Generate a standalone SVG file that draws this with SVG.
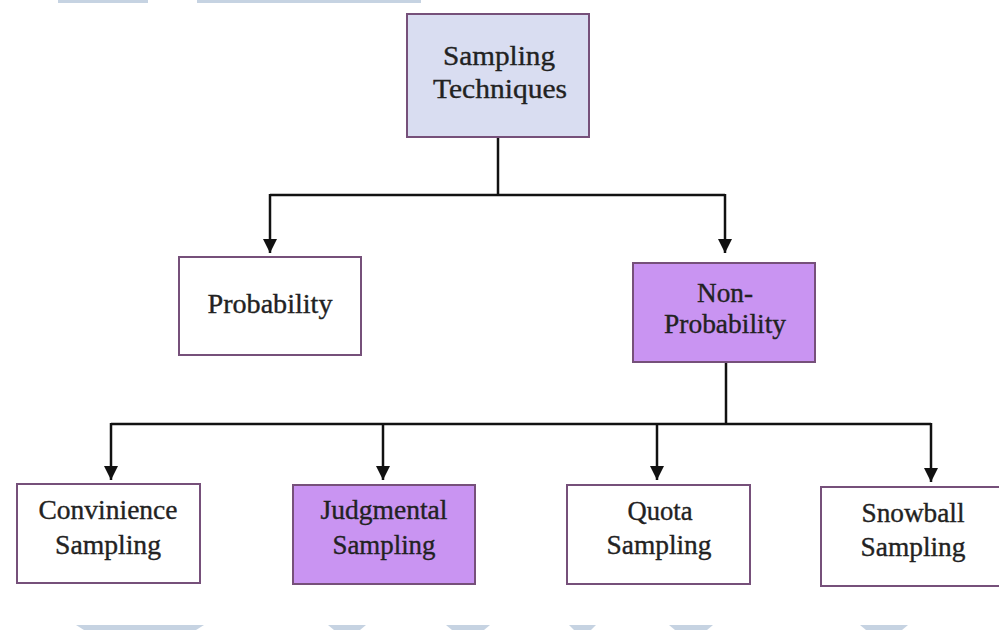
<svg xmlns="http://www.w3.org/2000/svg" width="999" height="630" viewBox="0 0 999 630">
<defs>
<style>
.box{stroke:#76507a;stroke-width:2}
.white{fill:#ffffff}
.purple{fill:#c994f2}
.blue{fill:#d9ddf1}
.t{font-family:"Liberation Serif","Times New Roman",serif;font-size:27px;fill:#222222;stroke:#222222;stroke-width:0.35;text-anchor:middle}
.c{stroke:#111111;stroke-width:2.5;fill:none}
.wm{fill:#c6d3e2}
</style>
<marker id="ah" viewBox="0 0 10 10" refX="10" refY="5" markerWidth="5.8" markerHeight="5.8" orient="auto" markerUnits="strokeWidth">
<path d="M0,0 L10,5 L0,10 z" fill="#111111"/>
</marker>
</defs>
<rect width="999" height="630" fill="#ffffff"/>
<g id="watermark">
<rect class="wm" x="58" y="0" width="90" height="3"/>
<rect class="wm" x="197" y="0" width="224" height="3"/>
<path class="wm" d="M76,625 L204,625 L196,630 L84,630 z"/>
<path class="wm" d="M328,625 L366,625 L360,630 L334,630 z"/>
<path class="wm" d="M446,625 L490,625 L484,630 L452,630 z"/>
<path class="wm" d="M569,625 L596,625 L591,630 L574,630 z"/>
<path class="wm" d="M669,625 L713,625 L707,630 L675,630 z"/>
<path class="wm" d="M860,625 L908,625 L902,630 L866,630 z"/>
</g>
<g id="connectors">
<path class="c" d="M498,137 V195"/>
<path class="c" d="M270,195 H725"/>
<path class="c" d="M270,194 V253" marker-end="url(#ah)"/>
<path class="c" d="M725,194 V253" marker-end="url(#ah)"/>
<path class="c" d="M726,362 V424"/>
<path class="c" d="M111,424 H931"/>
<path class="c" d="M111,423 V480" marker-end="url(#ah)"/>
<path class="c" d="M383,423 V480" marker-end="url(#ah)"/>
<path class="c" d="M657,423 V480" marker-end="url(#ah)"/>
<path class="c" d="M931,423 V482" marker-end="url(#ah)"/>
</g>
<g id="sampling-techniques">
<rect class="box blue" x="407" y="14" width="182" height="123"/>
<text class="t" x="499" y="65" textLength="112" lengthAdjust="spacingAndGlyphs">Sampling</text>
<text class="t" x="500" y="98" textLength="134" lengthAdjust="spacingAndGlyphs">Techniques</text>
</g>
<g id="probability">
<rect class="box white" x="179" y="257" width="182" height="98"/>
<text class="t" x="270" y="313" textLength="125" lengthAdjust="spacingAndGlyphs">Probability</text>
</g>
<g id="non-probability">
<rect class="box purple" x="633" y="263" width="182" height="99"/>
<text class="t" x="725" y="302" textLength="56" lengthAdjust="spacingAndGlyphs">Non-</text>
<text class="t" x="725" y="333" textLength="122" lengthAdjust="spacingAndGlyphs">Probability</text>
</g>
<g id="convinience">
<rect class="box white" x="17" y="484" width="183" height="99"/>
<text class="t" x="108" y="519" textLength="139" lengthAdjust="spacingAndGlyphs">Convinience</text>
<text class="t" x="108" y="554" textLength="106" lengthAdjust="spacingAndGlyphs">Sampling</text>
</g>
<g id="judgmental">
<rect class="box purple" x="293" y="485" width="182" height="99"/>
<text class="t" x="384" y="519" textLength="127" lengthAdjust="spacingAndGlyphs">Judgmental</text>
<text class="t" x="384" y="554" textLength="103" lengthAdjust="spacingAndGlyphs">Sampling</text>
</g>
<g id="quota">
<rect class="box white" x="567" y="485" width="183" height="99"/>
<text class="t" x="660" y="520" textLength="65" lengthAdjust="spacingAndGlyphs">Quota</text>
<text class="t" x="659" y="554" textLength="105" lengthAdjust="spacingAndGlyphs">Sampling</text>
</g>
<g id="snowball">
<rect class="box white" x="821" y="487" width="182" height="99"/>
<text class="t" x="913" y="522" textLength="103" lengthAdjust="spacingAndGlyphs">Snowball</text>
<text class="t" x="913" y="556" textLength="105" lengthAdjust="spacingAndGlyphs">Sampling</text>
</g>
</svg>
